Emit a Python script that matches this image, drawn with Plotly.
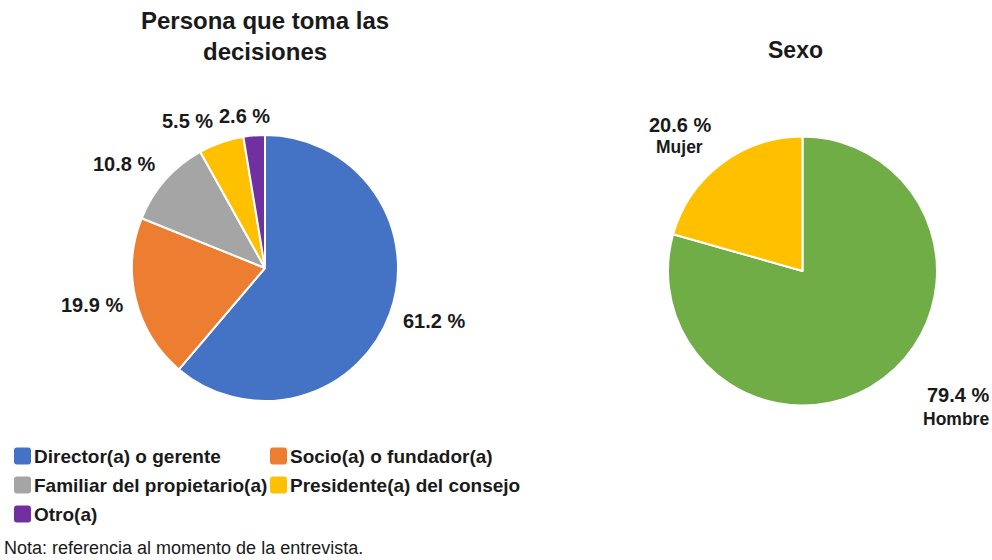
import plotly.graph_objects as go

W, H = 992, 560
FONT = "Liberation Sans, Arial, sans-serif"

# ---- data ----
decision_labels = [
    "Director(a) o gerente",
    "Socio(a) o fundador(a)",
    "Familiar del propietario(a)",
    "Presidente(a) del consejo",
    "Otro(a)",
]
decision_values = [61.2, 19.9, 10.8, 5.5, 2.6]
decision_colors = ["#4472C4", "#ED7D31", "#A5A5A5", "#FFC000", "#7030A0"]

sexo_labels = ["Hombre", "Mujer"]
sexo_values = [79.4, 20.6]
sexo_colors = ["#70AD47", "#FFC000"]

# ---- layout positions (pixels) ----
LEFT_PIE = (265, 268, 133)    # center x, center y, radius
RIGHT_PIE = (802.5, 271, 134.5)
DECISION_LABEL_XY = [(433.5, 320.5), (91.5, 304.5), (123.5, 164.5), (187, 121), (244, 116)]
SEXO_VALUE_XY = [(957.5, 395), (679.5, 124.5)]
SEXO_NAME_XY = [(956, 419), (679, 147)]
LEGEND_XY = [(14, 456), (270, 456), (14, 485), (270, 485), (14, 514)]
SQ = 17


def px(x):
    return x / W


def py(y):
    return 1 - y / H


def domain(cx, cy, r):
    return dict(x=[px(cx - r), px(cx + r)], y=[py(cy + r), py(cy - r)])


def rounded_square(x0, y0, s, rad):
    # path in paper coords, y0 is top edge in pixels
    l, r_, t, b = px(x0), px(x0 + s), py(y0), py(y0 + s)
    rx, ry = rad / W, rad / H
    return (
        f"M{l + rx},{t} L{r_ - rx},{t} Q{r_},{t} {r_},{t - ry} "
        f"L{r_},{b + ry} Q{r_},{b} {r_ - rx},{b} L{l + rx},{b} "
        f"Q{l},{b} {l},{b + ry} L{l},{t - ry} Q{l},{t} {l + rx},{t} Z"
    )


fig = go.Figure()
fig.add_trace(
    go.Pie(
        labels=decision_labels,
        values=decision_values,
        sort=False,
        direction="clockwise",
        rotation=0,
        textinfo="none",
        marker=dict(colors=decision_colors, line=dict(color="white", width=2)),
        domain=domain(*LEFT_PIE),
        showlegend=False,
    )
)
fig.add_trace(
    go.Pie(
        labels=sexo_labels,
        values=sexo_values,
        sort=False,
        direction="clockwise",
        rotation=0,
        textinfo="none",
        marker=dict(colors=sexo_colors, line=dict(color="white", width=2)),
        domain=domain(*RIGHT_PIE),
        showlegend=False,
    )
)

annotations = []
bold = dict(family=FONT, color="#1a1a1a", weight="bold")

# titles
annotations.append(dict(
    x=px(265), y=py(36), text="Persona que toma las<br>decisiones",
    font=dict(size=24, **bold), align="center",
))
annotations.append(dict(
    x=px(795), y=py(50), text="Sexo", font=dict(size=23, **bold),
))

# slice labels
for v, (x, y) in zip(decision_values, DECISION_LABEL_XY):
    annotations.append(dict(x=px(x), y=py(y), text=f"{v:.1f} %", font=dict(size=20, **bold)))
for v, name, (x, y), (nx, ny) in zip(sexo_values, sexo_labels, SEXO_VALUE_XY, SEXO_NAME_XY):
    annotations.append(dict(x=px(x), y=py(y), text=f"{v:.1f} %", font=dict(size=20, **bold)))
    annotations.append(dict(x=px(nx), y=py(ny), text=name, font=dict(size=17.5, **bold)))

# legend
shapes = []
for name, color, (x, y) in zip(decision_labels, decision_colors, LEGEND_XY):
    shapes.append(dict(
        type="path", xref="paper", yref="paper",
        path=rounded_square(x, y - SQ / 2, SQ, 3),
        fillcolor=color, line=dict(width=0),
    ))
    annotations.append(dict(
        x=px(x + SQ + 1), y=py(y), text=name, xanchor="left",
        font=dict(size=19, **bold),
    ))

# note
annotations.append(dict(
    x=px(2), y=py(548), text="Nota: referencia al momento de la entrevista.",
    xanchor="left", font=dict(size=18, family=FONT, color="#1a1a1a"),
))

for a in annotations:
    a.setdefault("xref", "paper")
    a.setdefault("yref", "paper")
    a.setdefault("showarrow", False)
    a.setdefault("xanchor", "center")
    a.setdefault("yanchor", "middle")

fig.update_layout(
    width=W,
    height=H,
    margin=dict(l=0, r=0, t=0, b=0),
    paper_bgcolor="white",
    plot_bgcolor="white",
    annotations=annotations,
    shapes=shapes,
    showlegend=False,
)

# drop the default page margin so the figure sits at the window's top-left
fig.write_html(
    "out.html",
    config={"displayModeBar": False},
    post_script="document.body.style.margin='0';document.body.style.overflow='hidden';",
)
